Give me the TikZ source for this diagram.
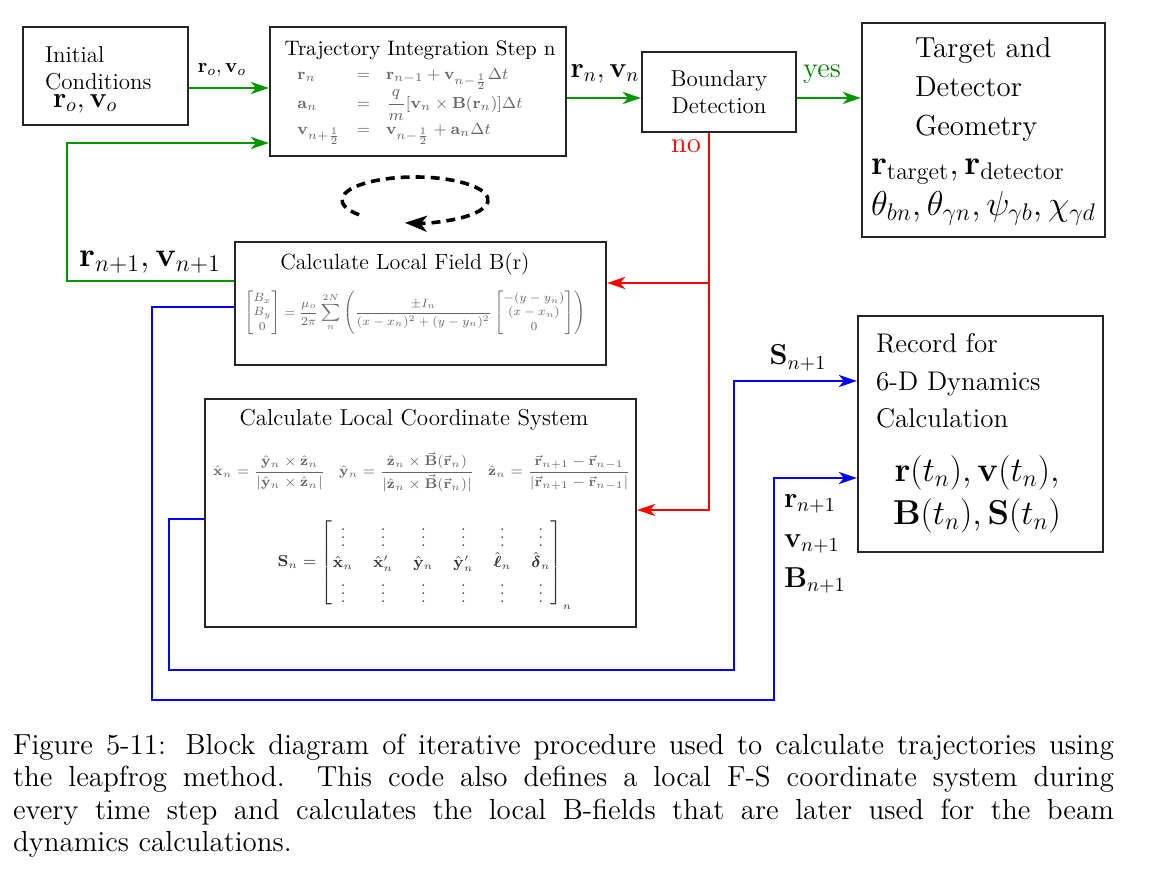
\documentclass[tikz,border=0pt]{standalone}
\usepackage{amsmath}
\usepackage{color}
\usepackage{graphicx}
\usepackage{tikz}
\usetikzlibrary{arrows.meta}
\tikzset{every picture/.style={line width=1pt}}
\definecolor{grn}{RGB}{0,150,0}
\definecolor{yesgrn}{RGB}{0,130,0}
\definecolor{rd}{RGB}{255,0,0}
\definecolor{blu}{RGB}{0,0,255}
\tikzset{
  block/.style={draw=black!85, line width=1.1pt, inner sep=0pt},
  flow/.style={line width=1.1pt, -{Stealth[length=9pt,width=6pt,inset=2.5pt]}},
  eqgray/.style={text=black!60, inner sep=0pt},
}

\begin{document}
\begin{tikzpicture}[x=0.5pt,y=0.5pt,yscale=-1,xscale=1]
		\useasboundingbox (0,0) rectangle (1151,882);
		
		%Shape: Rectangle
		\draw (105.5,76) node (init) [block, minimum width=82.5pt, minimum height=49pt] {};
		%Shape: Rectangle
		\draw (418,91.5) node (traj) [block, minimum width=148pt, minimum height=64.5pt] {};
		%Shape: Rectangle
		\draw (719,92) node (bound) [block, minimum width=77pt, minimum height=40pt] {};
		%Shape: Rectangle
		\draw (983.5,130) node (target) [block, minimum width=121.5pt, minimum height=107pt] {};
		%Shape: Rectangle
		\draw (420.5,303.5) node (field) [block, minimum width=185.5pt, minimum height=61.5pt] {};
		%Shape: Rectangle
		\draw (420.5,513) node (coord) [block, minimum width=215.5pt, minimum height=114pt] {};
		%Shape: Rectangle
		\draw (980.5,434) node (record) [block, minimum width=122.5pt, minimum height=118pt] {};
		
		%Straight Lines
		\draw [flow, grn] ([yshift=6pt]init.east) -- ([yshift=6pt]init.east -| traj.west) ;
		%Straight Lines
		\draw [flow, grn] ([yshift=-11.25pt]field.west) -- ++(-167,0) |- ([yshift=25.75pt]traj.west) ;
		%Straight Lines
		\draw [flow, grn] ([yshift=3.25pt]traj.east) -- ([yshift=3.25pt]traj.east -| bound.west) ;
		%Straight Lines
		\draw [flow, grn] ([yshift=3pt]bound.east) -- ([yshift=3pt]bound.east -| target.west) ;
		
		%Straight Lines
		\coordinate (nodown) at ([xshift=-5pt]bound.south);
		\coordinate (fieldin) at ([yshift=-10.25pt]field.east);
		\coordinate (coordin) at ([yshift=-1.5pt]coord.east);
		\draw [flow, rd] (nodown) |- (coordin) ;
		\draw [flow, rd] (nodown |- fieldin) -- (fieldin) ;
		
		%Straight Lines
		\draw [flow, blu] ([yshift=3pt]coord.west) -- ++(-35,0) |- ++(565,151) |- ([yshift=-26.5pt]record.west) ;
		%Straight Lines
		\draw [flow, blu] ([yshift=1.75pt]field.west) -- ++(-82,0) |- ++(622,393) |- ([yshift=22pt]record.west) ;
		
		%Shape: Arc
		\coordinate (loopc) at (415,200);
		\draw [line width=1.8pt, dash pattern=on 4.5pt off 3pt, -{Stealth[length=11pt,width=8pt,inset=3pt]}] ([shift={(140:73 and 23)}]loopc) arc [start angle=140, end angle=458, x radius=73, y radius=23] ;
		
		% Text Node
		\draw (44,68) node (initT) [anchor=west, align=left, inner sep=0pt, font=\fontsize{11.5}{13.5}\selectfont] {Initial\\Conditions};
		% Text Node
		\draw (52,104) node (initRV) [anchor=west, inner sep=0pt, font=\Large] {$\mathbf{r}_o,\mathbf{v}_o$};
		% Text Node
		\draw (420,50) node (trajT) [font=\fontsize{10.5}{12}\selectfont] {Trajectory Integration Step n};
		% Text Node
		\draw (410,105) node (trajEq) [eqgray, font=\fontsize{8.5}{10}\selectfont] {\setlength{\arraycolsep}{4pt}$\begin{array}{lcl}
			\mathbf{r}_n & = & \mathbf{r}_{n-1}+\mathbf{v}_{n-\frac{1}{2}}\Delta t\\[2pt]
			\mathbf{a}_n & = & \dfrac{q}{m}[\mathbf{v}_n\times\mathbf{B}(\mathbf{r}_n)]\Delta t\\[2pt]
			\mathbf{v}_{n+\frac{1}{2}} & = & \mathbf{v}_{n-\frac{1}{2}}+\mathbf{a}_n\Delta t
			\end{array}$};
		% Text Node
		\draw (719,92) node (boundT) [align=center, font=\fontsize{11.5}{13.5}\selectfont] {Boundary\\Detection};
		% Text Node
		\draw (914,89) node (targetT) [anchor=west, align=left, inner sep=0pt, font=\fontsize{14.5}{19.5}\selectfont] {Target and\\Detector\\Geometry};
		% Text Node
		\draw (870,172) node (targetR) [anchor=west, inner sep=0pt, font=\LARGE] {$\mathbf{r}_{\mathrm{target}},\mathbf{r}_{\mathrm{detector}}$};
		% Text Node
		\draw (870,208) node (targetA) [anchor=west, inner sep=0pt, font=\LARGE] {$\theta_{bn},\theta_{\gamma n},\psi_{\gamma b},\chi_{\gamma d}$};
		% Text Node
		\draw (405,264) node (fieldT) [font=\fontsize{11}{13}\selectfont] {Calculate Local Field B(r)};
		% Text Node
		\draw (415,313) node (fieldEq) [eqgray, font=\fontsize{7}{8.5}\selectfont] {\scalebox{0.86}{\setlength{\arraycolsep}{3pt}$\displaystyle\begin{bmatrix}B_x\\B_y\\0\end{bmatrix}=\frac{\mu_o}{2\pi}\sum_{n}^{2N}\left(\frac{\pm I_n}{(x-x_n)^2+(y-y_n)^2}\begin{bmatrix}-(y-y_n)\\(x-x_n)\\0\end{bmatrix}\right)$}};
		% Text Node
		\draw (414,420) node (coordT) [font=\fontsize{11.5}{13}\selectfont] {Calculate Local Coordinate System};
		% Text Node
		\draw (422,472) node (coordEq) [eqgray, font=\fontsize{6.9}{9}\selectfont] {$\displaystyle\hat{\mathbf{x}}_n=\frac{\hat{\mathbf{y}}_n\times\hat{\mathbf{z}}_n}{|\hat{\mathbf{y}}_n\times\hat{\mathbf{z}}_n|}\quad
			\hat{\mathbf{y}}_n=\frac{\hat{\mathbf{z}}_n\times\vec{\mathbf{B}}(\vec{\mathbf{r}}_n)}{|\hat{\mathbf{z}}_n\times\vec{\mathbf{B}}(\vec{\mathbf{r}}_n)|}\quad
			\hat{\mathbf{z}}_n=\frac{\vec{\mathbf{r}}_{n+1}-\vec{\mathbf{r}}_{n-1}}{|\vec{\mathbf{r}}_{n+1}-\vec{\mathbf{r}}_{n-1}|}$};
		% Text Node
		\draw (425,563) node (coordS) [text=black!80, inner sep=0pt, font=\fontsize{7.8}{9.5}\selectfont] {$\mathbf{S}_n=\begin{bmatrix}\vdots&\vdots&\vdots&\vdots&\vdots&\vdots\\
			\hat{\mathbf{x}}_n&\hat{\mathbf{x}}'_n&\hat{\mathbf{y}}_n&\hat{\mathbf{y}}'_n&\hat{\boldsymbol{\ell}}_n&\hat{\boldsymbol{\delta}}_n\\
			\vdots&\vdots&\vdots&\vdots&\vdots&\vdots\end{bmatrix}_n$};
		% Text Node
		\draw (875,381) node (recordT) [anchor=west, align=left, inner sep=0pt, font=\fontsize{13.5}{18.75}\selectfont] {Record for\\6-D Dynamics\\Calculation};
		% Text Node
		\draw (977,494) node (recordM) [align=center, inner sep=0pt, font=\fontsize{18.5}{21.5}\selectfont] {$\mathbf{r}(t_n),\mathbf{v}(t_n),$\\$\mathbf{B}(t_n),\mathbf{S}(t_n)$};
		
		% Text Node
		\draw (222,70) node (lblro) {$\mathbf{r}_o,\mathbf{v}_o$};
		% Text Node
		\draw (605,74) node (lblrn) [font=\Large] {$\mathbf{r}_n,\mathbf{v}_n$};
		% Text Node
		\draw (822,74) node (lblyes) [text=yesgrn, font=\Large] {yes};
		% Text Node
		\draw (686,146) node (lblno) [text=rd, font=\Large] {no};
		% Text Node
		\draw (150,262) node (lblrv) [font=\LARGE] {$\mathbf{r}_{n+1},\mathbf{v}_{n+1}$};
		% Text Node
		\draw (798,358) node (lblS) [font=\Large] {$\mathbf{S}_{n+1}$};
		% Text Node
		\draw (783,544) node (lblrvB) [anchor=west, align=left, inner sep=0pt, font=\fontsize{14.4}{20}\selectfont] {$\mathbf{r}_{n+1}$\\$\mathbf{v}_{n+1}$\\$\mathbf{B}_{n+1}$};
		
		% Text Node
		\draw (12,733) node (caption) [anchor=north west, inner sep=0pt, text width=550.5pt, align=justify, font=\fontsize{14.5}{16.2}\selectfont] {Figure 5-11: Block diagram of iterative procedure used to calculate trajectories using\linebreak the leapfrog method.  This code also defines a local F-S coordinate system during\linebreak every time step and calculates the local B-fields that are later used for the beam\linebreak dynamics calculations.};
		
		\end{tikzpicture}
\end{document}
